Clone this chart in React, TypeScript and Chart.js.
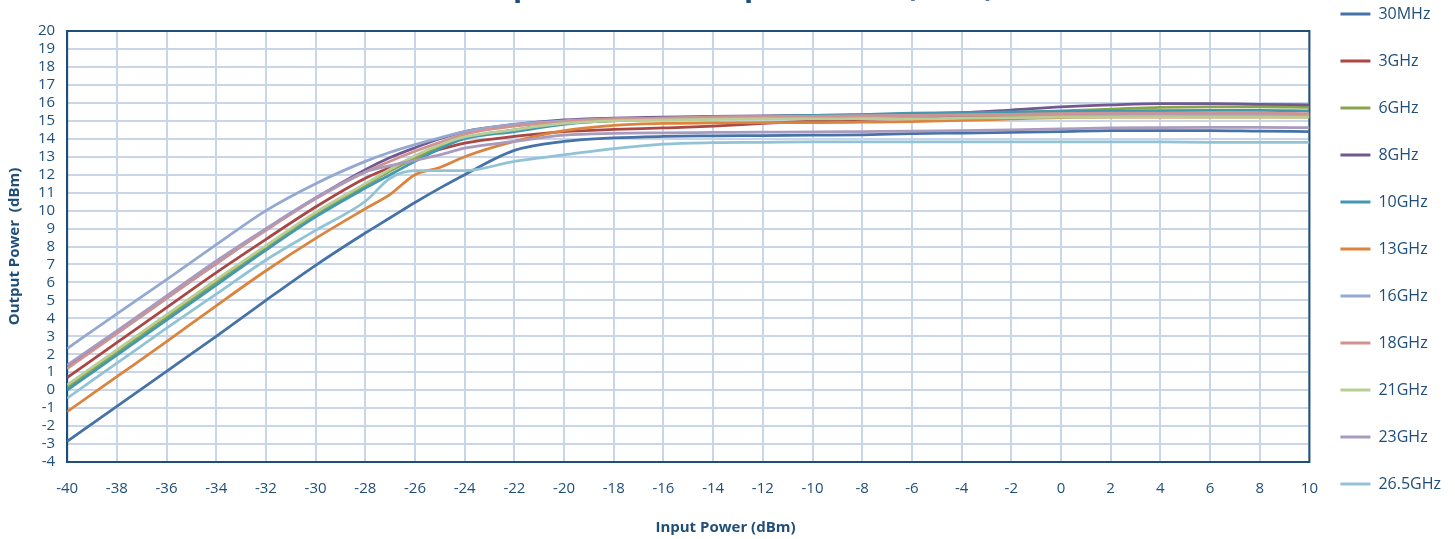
import React, { useEffect, useRef } from "react";
import { Chart, registerables } from "chart.js";

Chart.register(...registerables);

const TITLE = "Output Power vs Input Power (dBm)";
const X_TITLE = "Input Power (dBm)";
const Y_TITLE = "Output Power  (dBm)";

const INPUT_DBM = [-40, -38, -36, -34, -32, -30, -28, -27, -26, -25, -24, -22, -20, -18, -16, -14, -12, -10, -8, -6, -4, -2, 0, 2, 4, 6, 8, 10];

const SERIES_NAMES = ["30MHz", "3GHz", "6GHz", "8GHz", "10GHz", "13GHz", "16GHz", "18GHz", "21GHz", "23GHz", "26.5GHz"];
const SERIES_COLORS = ["#4572A7", "#AA4643", "#89A54E", "#71588F", "#4198AF", "#DB843D", "#93A9CF", "#D19392", "#B9CD96", "#A99BBD", "#91C3D5"];

const s30MHz = [-2.85, -0.9, 1.05, 3.0, 5.0, 6.95, 8.75, 9.6, 10.45, 11.25, 12.0, 13.35, 13.85, 14.05, 14.13, 14.16, 14.18, 14.2, 14.22, 14.28, 14.32, 14.36, 14.4, 14.45, 14.45, 14.45, 14.42, 14.4];
const s3GHz = [0.7, 2.65, 4.6, 6.55, 8.4, 10.2, 11.8, 12.4, 12.95, 13.4, 13.76, 14.13, 14.4, 14.52, 14.6, 14.7, 14.85, 14.98, 15.08, 15.15, 15.2, 15.25, 15.28, 15.3, 15.3, 15.3, 15.3, 15.28];
const s6GHz = [0.15, 2.1, 4.05, 6.0, 7.95, 9.8, 11.4, 12.2, 12.9, 13.55, 14.05, 14.5, 14.85, 15.0, 15.08, 15.12, 15.15, 15.2, 15.25, 15.3, 15.35, 15.45, 15.55, 15.65, 15.75, 15.78, 15.78, 15.75];
const s8GHz = [1.3, 3.2, 5.15, 7.05, 8.95, 10.7, 12.28, 12.95, 13.5, 14.0, 14.4, 14.8, 15.05, 15.15, 15.2, 15.25, 15.28, 15.3, 15.33, 15.38, 15.45, 15.6, 15.77, 15.88, 15.95, 15.95, 15.92, 15.88];
const s10GHz = [0.0, 1.95, 3.9, 5.85, 7.8, 9.65, 11.25, 12.0, 12.74, 13.45, 14.0, 14.4, 14.8, 15.02, 15.12, 15.2, 15.25, 15.3, 15.35, 15.42, 15.45, 15.5, 15.53, 15.55, 15.57, 15.58, 15.58, 15.55];
const s13GHz = [-1.2, 0.75, 2.7, 4.7, 6.65, 8.45, 10.1, 10.9, 12.0, 12.4, 13.0, 13.85, 14.45, 14.75, 14.85, 14.88, 14.9, 14.9, 14.92, 14.95, 15.02, 15.1, 15.18, 15.2, 15.2, 15.2, 15.2, 15.2];
const s16GHz = [2.32, 4.25, 6.15, 8.1, 10.0, 11.5, 12.74, 13.25, 13.67, 14.05, 14.4, 14.8, 15.0, 15.1, 15.15, 15.2, 15.23, 15.25, 15.27, 15.3, 15.32, 15.33, 15.35, 15.35, 15.35, 15.35, 15.35, 15.35];
const s18GHz = [1.2, 3.15, 5.1, 7.05, 8.9, 10.65, 12.15, 12.75, 13.3, 13.8, 14.26, 14.7, 14.95, 15.1, 15.15, 15.2, 15.22, 15.25, 15.27, 15.3, 15.33, 15.36, 15.4, 15.42, 15.43, 15.43, 15.43, 15.4];
const s21GHz = [0.3, 2.25, 4.2, 6.15, 8.05, 9.9, 11.5, 12.3, 13.05, 13.65, 14.1, 14.5, 14.85, 15.0, 15.05, 15.08, 15.1, 15.1, 15.12, 15.12, 15.15, 15.18, 15.2, 15.22, 15.23, 15.22, 15.22, 15.2];
const s23GHz = [1.4, 3.3, 5.25, 7.2, 9.0, 10.7, 12.15, 12.5, 12.8, 13.1, 13.48, 13.85, 14.2, 14.3, 14.33, 14.35, 14.37, 14.38, 14.4, 14.42, 14.45, 14.5, 14.55, 14.6, 14.62, 14.63, 14.63, 14.62];
const s26_5GHz = [-0.45, 1.5, 3.45, 5.35, 7.25, 8.9, 10.52, 11.8, 12.22, 12.22, 12.22, 12.74, 13.1, 13.45, 13.7, 13.78, 13.8, 13.82, 13.82, 13.82, 13.82, 13.82, 13.82, 13.82, 13.82, 13.8, 13.8, 13.8];

const SERIES_VALUES = [s30MHz, s3GHz, s6GHz, s8GHz, s10GHz, s13GHz, s16GHz, s18GHz, s21GHz, s23GHz, s26_5GHz];

const TEXT_COLOR = "#1F4E79";
const GRID_COLOR = "#C9D6EA";
const FONT = "'Open Sans', 'Noto Sans', sans-serif";

const plotBorder = {
  id: "plotBorder",
  beforeDatasetsDraw(chart: any) {
    const { ctx, chartArea } = chart;
    ctx.save();
    ctx.strokeStyle = TEXT_COLOR;
    ctx.lineWidth = 2;
    ctx.strokeRect(chartArea.left, chartArea.top, chartArea.right - chartArea.left, chartArea.bottom - chartArea.top);
    ctx.restore();
  },
};

export default function App() {
  const ref = useRef<HTMLCanvasElement | null>(null);

  useEffect(() => {
    if (!ref.current) return;
    const datasets = SERIES_NAMES.map((name, i) => ({
      label: name,
      data: INPUT_DBM.map((x, j) => ({ x, y: SERIES_VALUES[i][j] })),
      borderColor: SERIES_COLORS[i],
      backgroundColor: SERIES_COLORS[i],
      borderWidth: 2.75,
      pointRadius: 0,
      cubicInterpolationMode: "monotone" as const,
      order: SERIES_NAMES.length - i,
    }));
    const chart = new Chart(ref.current, {
      type: "line",
      data: { datasets },
      plugins: [plotBorder],
      options: {
        animation: false,
        responsive: false,
        layout: { padding: { right: 4 } },
        plugins: {
          title: {
            display: true,
            text: TITLE,
            color: TEXT_COLOR,
            font: { family: FONT, size: 30, weight: "bold" },
            padding: { top: 10.5, bottom: 25.5 },
          },
          subtitle: {
            display: true,
            position: "bottom",
            text: X_TITLE,
            color: TEXT_COLOR,
            font: { family: FONT, size: 15, weight: "bold" },
            padding: { top: 3, bottom: 2 },
          },
          legend: {
            position: "right",
            labels: {
              color: TEXT_COLOR,
              font: { family: FONT, size: 16 },
              boxWidth: 30,
              boxHeight: 3,
              padding: 31,
              sort: (a: any, b: any) => a.datasetIndex - b.datasetIndex,
              generateLabels: (chart: any) =>
                Chart.defaults.plugins.legend.labels.generateLabels(chart).map((it: any) => ({
                  ...it,
                  lineWidth: 0,
                  fillStyle: it.strokeStyle,
                })),
            },
          },
          tooltip: { enabled: false },
        },
        scales: {
          x: {
            type: "linear",
            min: -40,
            max: 10,
            ticks: { stepSize: 2, autoSkip: false, color: TEXT_COLOR, font: { family: FONT, size: 15 }, padding: 18, maxRotation: 0 },
            grid: { color: GRID_COLOR, lineWidth: 2, drawTicks: false },
            border: { color: TEXT_COLOR, width: 2 },
          },
          y: {
            type: "linear",
            min: -4,
            max: 20,
            ticks: { stepSize: 1, autoSkip: false, color: TEXT_COLOR, font: { family: FONT, size: 15 }, padding: 12 },
            grid: { color: GRID_COLOR, lineWidth: 2, drawTicks: false },
            border: { color: TEXT_COLOR, width: 2 },
            title: {
              display: true,
              text: Y_TITLE,
              color: TEXT_COLOR,
              font: { family: FONT, size: 15, weight: "bold" },
              padding: { top: 6, bottom: 2 },
            },
          },
        },
      },
    });
    return () => chart.destroy();
  }, []);

  return (
    <canvas
      ref={ref}
      width={1455}
      height={580}
      style={{ position: "absolute", left: 0, top: -41, width: 1455, height: 580 }}
    />
  );
}
